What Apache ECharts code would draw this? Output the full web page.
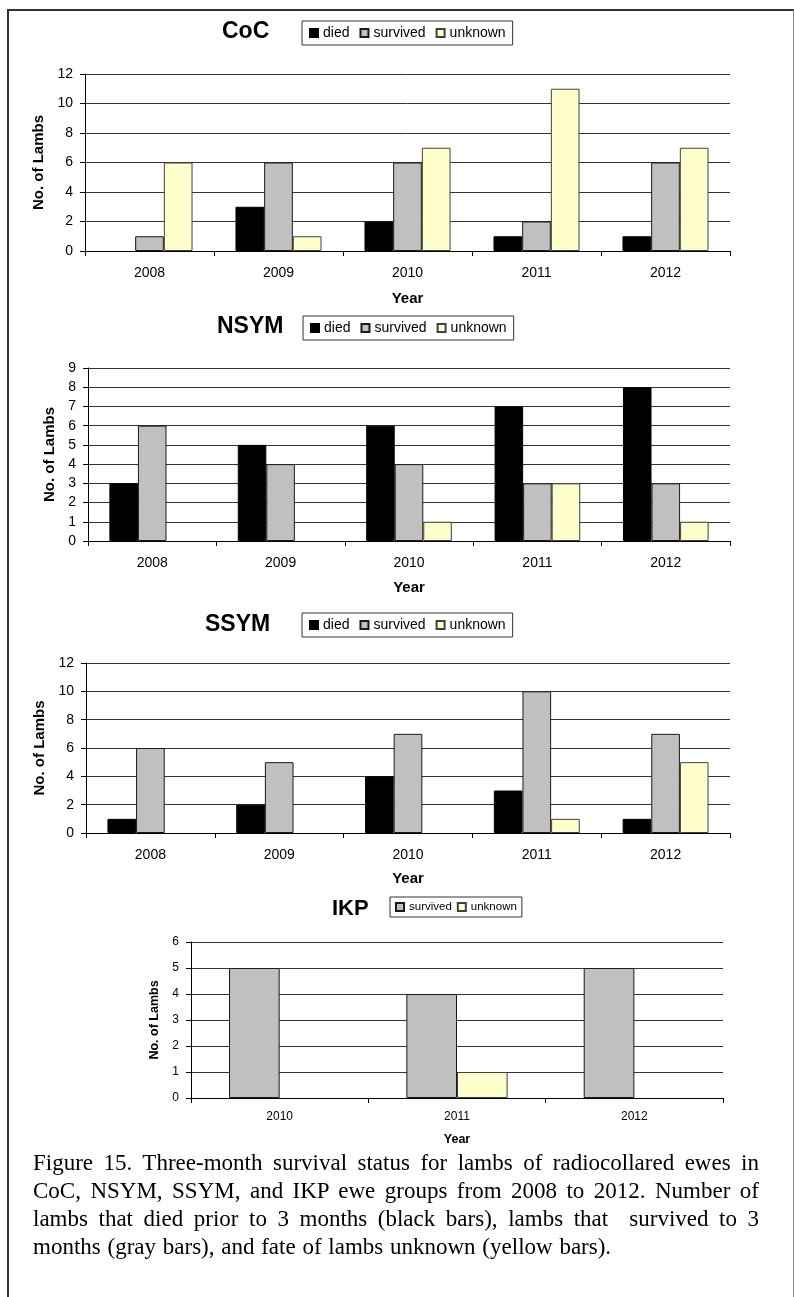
<!DOCTYPE html>
<html>
<head>
<meta charset="utf-8">
<script src="https://cdn.jsdelivr.net/npm/echarts@6/dist/echarts.min.js"></script>
<style>
  html, body { margin: 0; padding: 0; background: #fff; }
  #page { position: relative; width: 794px; height: 1297px; overflow: hidden; }
  #frame { position: absolute; left: 7px; top: 9px; width: 784px; height: 1400px;
           border-left: 2px solid #333; border-top: 2px solid #333; border-right: 1px solid #888; }
  #chart { position: absolute; left: 0; top: 0; width: 794px; height: 1297px; }
  #caption { position: absolute; left: 33px; top: 1149px; width: 726px;
             font-family: 'Liberation Serif', 'Times New Roman', serif; font-size: 23px;
             line-height: 28px; color: #000; }
  #caption .ln { white-space: pre; text-align: justify; text-align-last: justify; }
  #caption .ln.last { text-align: left; text-align-last: left; word-spacing: 1px; }
</style>
</head>
<body>
<div id="page">
  <div id="frame"></div>
  <div id="chart"></div>
  <div id="caption">
    <div class="ln">Figure 15. Three-month survival status for lambs of radiocollared ewes in</div>
    <div class="ln">CoC, NSYM, SSYM, and IKP ewe groups from 2008 to 2012. Number of</div>
    <div class="ln">lambs that died prior to 3 months (black bars), lambs that  survived to 3</div>
    <div class="ln last">months (gray bars), and fate of lambs unknown (yellow bars).</div>
  </div>
</div>
<script>
// Lamb fates per ewe group and year
const years = ['2008', '2009', '2010', '2011', '2012'];
const ikpYears = ['2010', '2011', '2012'];

const cocDied = [0, 3, 2, 1, 1];
const cocSurvived = [1, 6, 6, 2, 6];
const cocUnknown = [6, 1, 7, 11, 7];

const nsymDied = [3, 5, 6, 7, 8];
const nsymSurvived = [6, 4, 4, 3, 3];
const nsymUnknown = [0, 0, 1, 3, 1];

const ssymDied = [1, 2, 4, 3, 1];
const ssymSurvived = [6, 5, 7, 10, 7];
const ssymUnknown = [0, 0, 0, 1, 5];

const ikpSurvived = [5, 4, 5];
const ikpUnknown = [0, 1, 0];

const FONT = "'Liberation Sans', Arial, sans-serif";
const COLORS = { died: '#000000', survived: '#C0C0C0', unknown: '#FFFFCC' };
const BORDERS = { died: '#000000', survived: '#1a1a1a', unknown: '#404040' };

// Layout of each panel: plot area, title, legend box and axis name gaps
const panels = [
  { title: 'CoC', left: 85, top: 74, width: 645, height: 177, max: 12, interval: 2,
    titleLeft: 222, titleTop: 20, titleSize: 23,
    legendLeft: 302, legendTop: 21, legendSize: 14, legendNames: ['died', 'survived', 'unknown'],
    yGap: 38, xGap: 40, labelSize: 14, nameSize: 15 },
  { title: 'NSYM', left: 88, top: 368, width: 642, height: 173, max: 9, interval: 1,
    titleLeft: 217, titleTop: 315, titleSize: 23,
    legendLeft: 303, legendTop: 316, legendSize: 14, legendNames: ['died', 'survived', 'unknown'],
    yGap: 29, xGap: 39, labelSize: 14, nameSize: 15 },
  { title: 'SSYM', left: 86, top: 663, width: 644, height: 170, max: 12, interval: 2,
    titleLeft: 205, titleTop: 613, titleSize: 23,
    legendLeft: 302, legendTop: 613, legendSize: 14, legendNames: ['died', 'survived', 'unknown'],
    yGap: 38, xGap: 38, labelSize: 14, nameSize: 15 },
  { title: 'IKP', left: 191, top: 942, width: 532, height: 156, max: 6, interval: 1,
    titleLeft: 332, titleTop: 898, titleSize: 22,
    legendLeft: 390, legendTop: 897, legendSize: 11.5, legendNames: ['survived', 'unknown'],
    yGap: 21, xGap: 35, labelSize: 12, nameSize: 12.5 }
];

const seriesSets = [
  { cats: years, data: { died: cocDied, survived: cocSurvived, unknown: cocUnknown } },
  { cats: years, data: { died: nsymDied, survived: nsymSurvived, unknown: nsymUnknown } },
  { cats: years, data: { died: ssymDied, survived: ssymSurvived, unknown: ssymUnknown } },
  { cats: ikpYears, data: { survived: ikpSurvived, unknown: ikpUnknown } }
];

const grid = [], xAxis = [], yAxis = [], series = [], title = [], legend = [];

panels.forEach((p, i) => {
  const small = i === 3;
  grid.push({ left: p.left, top: p.top, width: p.width, height: p.height, containLabel: false });

  title.push({
    text: p.title, left: p.titleLeft, top: p.titleTop, padding: 0,
    textStyle: { fontFamily: FONT, fontWeight: 'bold', fontSize: p.titleSize, color: '#000' }
  });

  legend.push({
    data: p.legendNames, left: p.legendLeft, top: p.legendTop, orient: 'horizontal',
    padding: small ? [4, 5, 4, 5] : [5, 7, 5, 7], itemGap: small ? 5 : 10,
    itemWidth: 8, itemHeight: 8, itemTextGap: 3,
    icon: 'rect', selectedMode: false,
    borderColor: '#333', borderWidth: 1, borderRadius: 0, backgroundColor: '#fff',
    textStyle: { fontFamily: FONT, fontSize: p.legendSize, color: '#000' }
  });

  xAxis.push({
    type: 'category', gridIndex: i, data: seriesSets[i].cats,
    name: 'Year', nameLocation: 'middle', nameGap: p.xGap,
    nameTextStyle: { fontFamily: FONT, fontWeight: 'bold', fontSize: p.nameSize, color: '#000' },
    axisLine: { lineStyle: { color: '#000', width: 1 } },
    axisTick: { show: true, alignWithLabel: false, length: 5, lineStyle: { color: '#000' } },
    axisLabel: { fontFamily: FONT, fontSize: p.labelSize, color: '#000', margin: small ? 13 : 15 },
    splitLine: { show: false }
  });

  yAxis.push({
    type: 'value', gridIndex: i, min: 0, max: p.max, interval: p.interval,
    name: 'No. of Lambs', nameLocation: 'middle', nameRotate: 90, nameGap: p.yGap,
    nameTextStyle: { fontFamily: FONT, fontWeight: 'bold', fontSize: p.nameSize, color: '#000' },
    axisLine: { show: true, lineStyle: { color: '#000', width: 1 } },
    axisTick: { show: true, length: 5, lineStyle: { color: '#000' } },
    axisLabel: { fontFamily: FONT, fontSize: p.labelSize, color: '#000', margin: 12 },
    splitLine: { show: true, lineStyle: { color: '#333', width: 1 } }
  });

  const names = Object.keys(seriesSets[i].data);
  const gap = names.length === 3 ? '33.3%' : '42.9%';
  names.forEach(name => {
    series.push({
      name: name, type: 'bar', xAxisIndex: i, yAxisIndex: i,
      // a count of zero leaves the slot empty (no flat outline on the axis)
      data: seriesSets[i].data[name].map(v => (v === 0 ? '-' : v)),
      barGap: '0%', barCategoryGap: gap,
      itemStyle: { color: COLORS[name], borderColor: BORDERS[name], borderWidth: 1 },
      emphasis: { disabled: true },
      animation: false
    });
  });
});

const chart = echarts.init(document.getElementById('chart'), null, { renderer: 'canvas' });
chart.setOption({
  backgroundColor: 'transparent',
  animation: false,
  title: title,
  legend: legend,
  grid: grid,
  xAxis: xAxis,
  yAxis: yAxis,
  series: series
});
</script>
</body>
</html>
